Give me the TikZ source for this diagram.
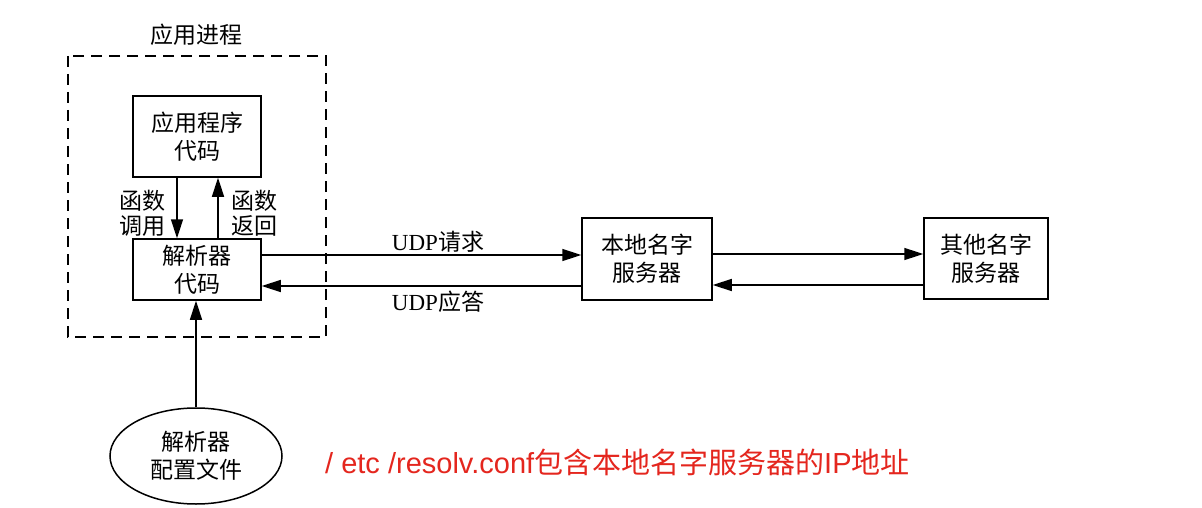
\documentclass[tikz,border=0pt]{standalone}
\usepackage{fontspec}
\setmainfont{Liberation Serif}
\setsansfont{Liberation Sans}
\newfontfamily\cjk{Noto Sans CJK SC}
\usetikzlibrary{arrows.meta,shapes.geometric}
\definecolor{notered}{RGB}{228,38,30}
\begin{document}
\begin{tikzpicture}[x=1pt,y=-1pt,
  box/.style={draw,line width=1.5pt,inner sep=0pt,align=center,
    font=\cjk\fontsize{23}{28}\selectfont},
  lbl/.style={align=center,inner sep=0pt,font=\cjk\fontsize{23}{25}\selectfont},
  arr/.style={line width=1.5pt,-{Triangle[length=19pt,width=12pt]}}]
\useasboundingbox (0,0) rectangle (1202,508);
% process boundary
\draw[line width=1.5pt,dash pattern=on 11pt off 7pt] (68,56) rectangle (326,337);
\node[lbl] (proc) at (196,35) {应用进程};
% boxes
\node[box,minimum width=128pt,minimum height=81pt] (app) at (197,136.5) {应用程序\\代码};
\node[box,minimum width=128pt,minimum height=61pt] (res) at (197,269.5) {解析器\\代码};
\node[box,minimum width=130pt,minimum height=82pt] (local) at (647,259) {本地名字\\服务器};
\node[box,minimum width=124pt,minimum height=81pt] (other) at (986,258.5) {其他名字\\服务器};
\node[draw,ellipse,line width=1.5pt,minimum width=172pt,minimum height=96pt,
  inner sep=0pt,align=center,font=\cjk\fontsize{23}{28}\selectfont] (conf) at (196,456) {解析器\\配置文件};
% call / return between application and resolver
\coordinate (dn) at (177,0);
\coordinate (up) at (218,0);
\draw[arr] (app.south -| dn) -- (res.north -| dn);
\draw[arr] (res.north -| up) -- (app.south -| up);
\node[lbl] (call) at (142,213) {函数\\调用};
\node[lbl] (ret) at (254,213) {函数\\返回};
% UDP traffic
\coordinate (rq) at (0,255);
\coordinate (rp) at (0,286);
\draw[arr] (res.east |- rq) -- (local.west |- rq);
\draw[arr] (local.west |- rp) -- (res.east |- rp);
\node[lbl,font=\fontsize{23}{24}\selectfont] (udpq) at (438,242) {UDP{\cjk 请求}};
\node[lbl,font=\fontsize{23}{24}\selectfont] (udpa) at (438,302) {UDP{\cjk 应答}};
\coordinate (fq) at (0,254);
\coordinate (fp) at (0,285);
\draw[arr] (local.east |- fq) -- (other.west |- fq);
\draw[arr] (other.west |- fp) -- (local.east |- fp);
% configuration file
\draw[arr] (conf.north) -- (res.south -| conf.north);
\node[anchor=west,inner sep=0pt,text=notered,font=\sffamily\fontsize{29}{33}\selectfont] (note) at (325,462)
  {/ etc /resolv.conf{\cjk 包含本地名字服务器的}IP{\cjk 地址}};
\end{tikzpicture}
\end{document}
